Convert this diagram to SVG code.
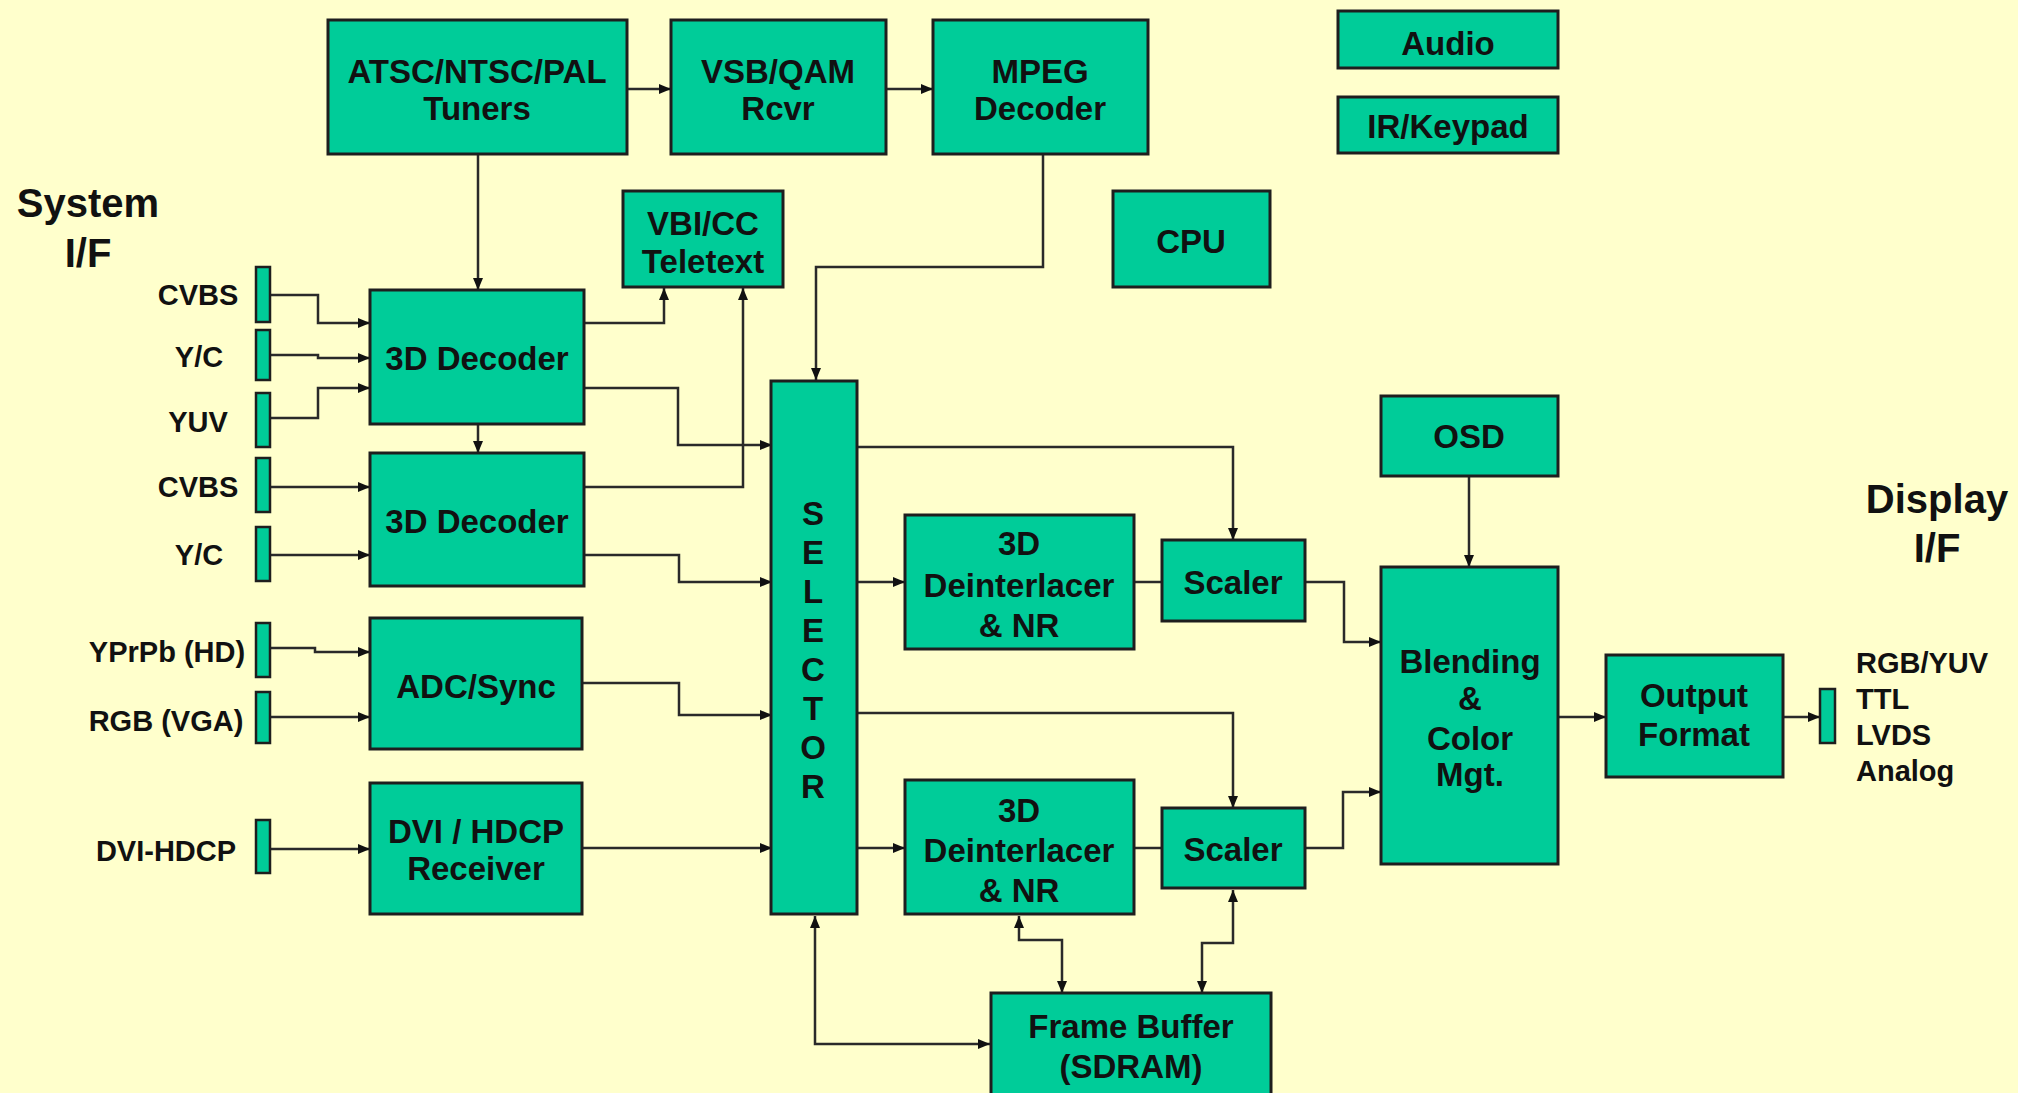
<svg xmlns="http://www.w3.org/2000/svg" width="2018" height="1093" viewBox="0 0 2018 1093">
<style>
.box{fill:#00CC99;stroke:#1e1e1e;stroke-width:3}
.port{fill:#00CC99;stroke:#1e1e1e;stroke-width:2.5}
.t{font-family:"Liberation Sans",Arial,sans-serif;font-weight:bold;font-size:33px;fill:#111;text-anchor:middle}
.p{font-family:"Liberation Sans",Arial,sans-serif;font-weight:bold;font-size:29px;fill:#111;text-anchor:middle}
.h{font-family:"Liberation Sans",Arial,sans-serif;font-weight:bold;font-size:40px;fill:#111;text-anchor:middle}
.w{fill:none;stroke:#2a2a2a;stroke-width:2.5}
</style>
<defs>
<marker id="a" viewBox="0 0 12 10" refX="12" refY="5" markerWidth="12" markerHeight="10" markerUnits="userSpaceOnUse" orient="auto-start-reverse">
<path d="M0,0 L12,5 L0,10 z" fill="#111"/>
</marker>
</defs>
<rect width="2018" height="1093" fill="#FFFFCC"/>

<g id="connectors">
<path class="w" d="M627,89 H671" marker-end="url(#a)"/>
<path class="w" d="M886,89 H933" marker-end="url(#a)"/>
<path class="w" d="M478,154 V290" marker-end="url(#a)"/>
<path class="w" d="M1043,154 V267 H816 V380" marker-end="url(#a)"/>
<path class="w" d="M271,295 H318 V323 H370" marker-end="url(#a)"/>
<path class="w" d="M271,355 H318 V358 H370" marker-end="url(#a)"/>
<path class="w" d="M271,418 H318 V388 H370" marker-end="url(#a)"/>
<path class="w" d="M584,323 H664 V288" marker-end="url(#a)"/>
<path class="w" d="M584,388 H678 V445 H772" marker-end="url(#a)"/>
<path class="w" d="M478,424 V453" marker-end="url(#a)"/>
<path class="w" d="M271,487 H370" marker-end="url(#a)"/>
<path class="w" d="M271,555 H370" marker-end="url(#a)"/>
<path class="w" d="M584,487 H743 V288" marker-end="url(#a)"/>
<path class="w" d="M584,555 H679 V582 H772" marker-end="url(#a)"/>
<path class="w" d="M271,648 H315 V652 H370" marker-end="url(#a)"/>
<path class="w" d="M271,717 H370" marker-end="url(#a)"/>
<path class="w" d="M582,683 H679 V715 H772" marker-end="url(#a)"/>
<path class="w" d="M271,849 H370" marker-end="url(#a)"/>
<path class="w" d="M582,848 H772" marker-end="url(#a)"/>
<path class="w" d="M857,447 H1233 V540" marker-end="url(#a)"/>
<path class="w" d="M857,582 H905" marker-end="url(#a)"/>
<path class="w" d="M1134,582 H1162"/>
<path class="w" d="M1305,582 H1344 V642 H1381" marker-end="url(#a)"/>
<path class="w" d="M857,713 H1233 V808" marker-end="url(#a)"/>
<path class="w" d="M857,848 H905" marker-end="url(#a)"/>
<path class="w" d="M1134,848 H1162"/>
<path class="w" d="M1305,848 H1343 V792 H1381" marker-end="url(#a)"/>
<path class="w" d="M1469,476 V567" marker-end="url(#a)"/>
<path class="w" d="M1558,717 H1606" marker-end="url(#a)"/>
<path class="w" d="M1783,717 H1820" marker-end="url(#a)"/>
<path class="w" d="M815,916 V1044 H990" marker-start="url(#a)" marker-end="url(#a)"/>
<path class="w" d="M1019,916 V940 H1062 V993" marker-start="url(#a)" marker-end="url(#a)"/>
<path class="w" d="M1233,890 V943 H1202 V993" marker-start="url(#a)" marker-end="url(#a)"/>
</g>

<g id="labels">
<text class="h" x="88" y="217">System</text>
<text class="h" x="88" y="267">I/F</text>
<text class="h" x="1937" y="513">Display</text>
<text class="h" x="1937" y="562">I/F</text>
<text class="p" x="198" y="305">CVBS</text>
<text class="p" x="199" y="367">Y/C</text>
<text class="p" x="198" y="432">YUV</text>
<text class="p" x="198" y="497">CVBS</text>
<text class="p" x="199" y="565">Y/C</text>
<text class="p" x="167" y="662">YPrPb (HD)</text>
<text class="p" x="166" y="731">RGB (VGA)</text>
<text class="p" x="166" y="861">DVI-HDCP</text>
<text class="p" x="1856" y="673" style="text-anchor:start">RGB/YUV</text>
<text class="p" x="1856" y="709" style="text-anchor:start">TTL</text>
<text class="p" x="1856" y="745" style="text-anchor:start">LVDS</text>
<text class="p" x="1856" y="781" style="text-anchor:start">Analog</text>
</g>

<g id="ports">
<rect class="port" x="256" y="267" width="14" height="55"/>
<rect class="port" x="256" y="330" width="14" height="50"/>
<rect class="port" x="256" y="393" width="14" height="54"/>
<rect class="port" x="256" y="458" width="14" height="54"/>
<rect class="port" x="256" y="527" width="14" height="54"/>
<rect class="port" x="256" y="623" width="14" height="54"/>
<rect class="port" x="256" y="692" width="14" height="51"/>
<rect class="port" x="256" y="820" width="14" height="53"/>
<rect class="port" x="1820" y="689" width="15" height="54"/>
</g>

<g id="tuners"><rect class="box" x="328" y="20" width="299" height="134"/>
<text class="t" x="477" y="83">ATSC/NTSC/PAL</text><text class="t" x="477" y="120">Tuners</text></g>
<g id="vsb"><rect class="box" x="671" y="20" width="215" height="134"/>
<text class="t" x="778" y="83">VSB/QAM</text><text class="t" x="778" y="120">Rcvr</text></g>
<g id="mpeg"><rect class="box" x="933" y="20" width="215" height="134"/>
<text class="t" x="1040" y="83">MPEG</text><text class="t" x="1040" y="120">Decoder</text></g>
<g id="audio"><rect class="box" x="1338" y="11" width="220" height="57"/>
<text class="t" x="1448" y="55">Audio</text></g>
<g id="irkeypad"><rect class="box" x="1338" y="97" width="220" height="56"/>
<text class="t" x="1448" y="138">IR/Keypad</text></g>
<g id="vbi"><rect class="box" x="623" y="191" width="160" height="96"/>
<text class="t" x="703" y="235">VBI/CC</text><text class="t" x="703" y="273">Teletext</text></g>
<g id="cpu"><rect class="box" x="1113" y="191" width="157" height="96"/>
<text class="t" x="1191" y="253">CPU</text></g>
<g id="decoder1"><rect class="box" x="370" y="290" width="214" height="134"/>
<text class="t" x="477" y="370">3D Decoder</text></g>
<g id="decoder2"><rect class="box" x="370" y="453" width="214" height="133"/>
<text class="t" x="477" y="533">3D Decoder</text></g>
<g id="adc"><rect class="box" x="370" y="618" width="212" height="131"/>
<text class="t" x="476" y="698">ADC/Sync</text></g>
<g id="dvi"><rect class="box" x="370" y="783" width="212" height="131"/>
<text class="t" x="476" y="843">DVI / HDCP</text><text class="t" x="476" y="880">Receiver</text></g>
<g id="selector"><rect class="box" x="771" y="381" width="86" height="533"/>
<text class="t" x="813" y="525">S</text><text class="t" x="813" y="564">E</text><text class="t" x="813" y="603">L</text><text class="t" x="813" y="642">E</text><text class="t" x="813" y="681">C</text><text class="t" x="813" y="720">T</text><text class="t" x="813" y="759">O</text><text class="t" x="813" y="798">R</text></g>
<g id="deint1"><rect class="box" x="905" y="515" width="229" height="134"/>
<text class="t" x="1019" y="555">3D</text><text class="t" x="1019" y="597">Deinterlacer</text><text class="t" x="1019" y="637">&amp; NR</text></g>
<g id="deint2"><rect class="box" x="905" y="780" width="229" height="134"/>
<text class="t" x="1019" y="822">3D</text><text class="t" x="1019" y="862">Deinterlacer</text><text class="t" x="1019" y="902">&amp; NR</text></g>
<g id="scaler1"><rect class="box" x="1162" y="540" width="143" height="81"/>
<text class="t" x="1233" y="594">Scaler</text></g>
<g id="scaler2"><rect class="box" x="1162" y="808" width="143" height="80"/>
<text class="t" x="1233" y="861">Scaler</text></g>
<g id="osd"><rect class="box" x="1381" y="396" width="177" height="80"/>
<text class="t" x="1469" y="448">OSD</text></g>
<g id="blending"><rect class="box" x="1381" y="567" width="177" height="297"/>
<text class="t" x="1470" y="673">Blending</text><text class="t" x="1470" y="710">&amp;</text><text class="t" x="1470" y="750">Color</text><text class="t" x="1470" y="786">Mgt.</text></g>
<g id="output"><rect class="box" x="1606" y="655" width="177" height="122"/>
<text class="t" x="1694" y="707">Output</text><text class="t" x="1694" y="746">Format</text></g>
<g id="framebuffer"><rect class="box" x="991" y="993" width="280" height="115"/>
<text class="t" x="1131" y="1038">Frame Buffer</text><text class="t" x="1131" y="1078">(SDRAM)</text></g>
</svg>
